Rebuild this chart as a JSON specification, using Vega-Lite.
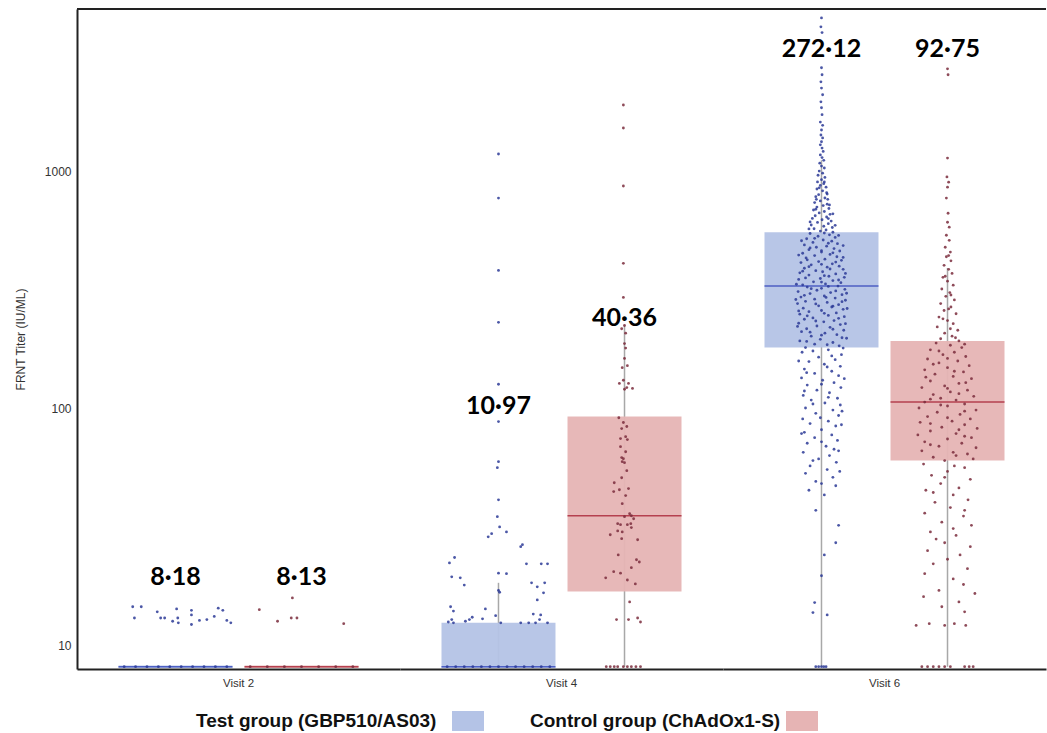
{
  "$schema": "https://vega.github.io/schema/vega-lite/v6.json",
  "padding": {"left": 14, "top": 8, "right": 0, "bottom": 0},
  "background": "white",
  "bounds": "flush",
  "data": {"values": [
    {"k":"b","v":"Visit 2","g":"T","lo":8.1,"q1":8.0,"med":8.1,"q3":8.2,"hi":8.1},
    {"k":"b","v":"Visit 2","g":"C","lo":8.1,"q1":8.0,"med":8.1,"q3":8.2,"hi":8.1},
    {"k":"b","v":"Visit 4","g":"T","lo":8.1,"q1":8.0,"med":8.1,"q3":12.4,"hi":18.3},
    {"k":"b","v":"Visit 4","g":"C","lo":8.1,"q1":16.8,"med":35.1,"q3":92,"hi":223},
    {"k":"b","v":"Visit 6","g":"T","lo":8.1,"q1":180,"med":327,"q3":552,"hi":1110},
    {"k":"b","v":"Visit 6","g":"C","lo":8.1,"q1":60.1,"med":106,"q3":192,"hi":390},
    {"k":"l","v":"Visit 2","g":"T","lab":"8·18","ly":17.9},
    {"k":"l","v":"Visit 2","g":"C","lab":"8·13","ly":17.9},
    {"k":"l","v":"Visit 4","g":"T","lab":"10·97","ly":94.8},
    {"k":"l","v":"Visit 4","g":"C","lab":"40·36","ly":223},
    {"k":"l","v":"Visit 6","g":"T","lab":"272·12","ly":3030},
    {"k":"l","v":"Visit 6","g":"C","lab":"92·75","ly":3030},

    {"k":"p","v":"Visit 2","g":"T","t":14.5,"j":-0.75},{"k":"p","v":"Visit 2","g":"T","t":14.5,"j":-0.6},{"k":"p","v":"Visit 2","g":"T","t":13.0,"j":-0.72},{"k":"p","v":"Visit 2","g":"T","t":13.8,"j":-0.32},{"k":"p","v":"Visit 2","g":"T","t":13.0,"j":-0.26},{"k":"p","v":"Visit 2","g":"T","t":13.0,"j":-0.19},{"k":"p","v":"Visit 2","g":"T","t":12.6,"j":-0.05},{"k":"p","v":"Visit 2","g":"T","t":14.2,"j":0.02},{"k":"p","v":"Visit 2","g":"T","t":12.4,"j":0.05},{"k":"p","v":"Visit 2","g":"T","t":13.0,"j":0.04},{"k":"p","v":"Visit 2","g":"T","t":14.0,"j":0.28},{"k":"p","v":"Visit 2","g":"T","t":13.4,"j":0.28},{"k":"p","v":"Visit 2","g":"T","t":12.2,"j":0.28},{"k":"p","v":"Visit 2","g":"T","t":12.7,"j":0.42},{"k":"p","v":"Visit 2","g":"T","t":12.8,"j":0.55},{"k":"p","v":"Visit 2","g":"T","t":13.2,"j":0.68},{"k":"p","v":"Visit 2","g":"T","t":14.3,"j":0.75},{"k":"p","v":"Visit 2","g":"T","t":14.0,"j":0.83},{"k":"p","v":"Visit 2","g":"T","t":12.7,"j":0.9},{"k":"p","v":"Visit 2","g":"T","t":12.4,"j":0.97},
    {"k":"p","v":"Visit 2","g":"T","t":8.1,"j":-0.9},{"k":"p","v":"Visit 2","g":"T","t":8.1,"j":-0.7},{"k":"p","v":"Visit 2","g":"T","t":8.1,"j":-0.5},{"k":"p","v":"Visit 2","g":"T","t":8.1,"j":-0.3},{"k":"p","v":"Visit 2","g":"T","t":8.1,"j":-0.1},{"k":"p","v":"Visit 2","g":"T","t":8.1,"j":0.1},{"k":"p","v":"Visit 2","g":"T","t":8.1,"j":0.3},{"k":"p","v":"Visit 2","g":"T","t":8.1,"j":0.5},{"k":"p","v":"Visit 2","g":"T","t":8.1,"j":0.7},{"k":"p","v":"Visit 2","g":"T","t":8.1,"j":0.9},

    {"k":"p","v":"Visit 2","g":"C","t":14.1,"j":-0.74},{"k":"p","v":"Visit 2","g":"C","t":12.6,"j":-0.42},{"k":"p","v":"Visit 2","g":"C","t":15.8,"j":-0.16},{"k":"p","v":"Visit 2","g":"C","t":13.0,"j":-0.18},{"k":"p","v":"Visit 2","g":"C","t":13.0,"j":-0.08},{"k":"p","v":"Visit 2","g":"C","t":12.3,"j":0.74},
    {"k":"p","v":"Visit 2","g":"C","t":8.1,"j":-0.9},{"k":"p","v":"Visit 2","g":"C","t":8.1,"j":-0.6},{"k":"p","v":"Visit 2","g":"C","t":8.1,"j":-0.3},{"k":"p","v":"Visit 2","g":"C","t":8.1,"j":0.0},{"k":"p","v":"Visit 2","g":"C","t":8.1,"j":0.3},{"k":"p","v":"Visit 2","g":"C","t":8.1,"j":0.6},{"k":"p","v":"Visit 2","g":"C","t":8.1,"j":0.9},

    {"k":"p","v":"Visit 4","g":"T","t":1180,"j":0.0},{"k":"p","v":"Visit 4","g":"T","t":769,"j":0.0},{"k":"p","v":"Visit 4","g":"T","t":381,"j":0.0},{"k":"p","v":"Visit 4","g":"T","t":230,"j":0.0},{"k":"p","v":"Visit 4","g":"T","t":126,"j":0.0},{"k":"p","v":"Visit 4","g":"T","t":87.7,"j":0.0},{"k":"p","v":"Visit 4","g":"T","t":59.4,"j":0.0},{"k":"p","v":"Visit 4","g":"T","t":56,"j":-0.02},{"k":"p","v":"Visit 4","g":"T","t":41,"j":0.0},{"k":"p","v":"Visit 4","g":"T","t":34.8,"j":-0.02},{"k":"p","v":"Visit 4","g":"T","t":31.5,"j":0.02},{"k":"p","v":"Visit 4","g":"T","t":28.6,"j":-0.18},{"k":"p","v":"Visit 4","g":"T","t":29.5,"j":-0.12},{"k":"p","v":"Visit 4","g":"T","t":30,"j":0.14},{"k":"p","v":"Visit 4","g":"T","t":26,"j":0.39},{"k":"p","v":"Visit 4","g":"T","t":26.5,"j":0.42},{"k":"p","v":"Visit 4","g":"T","t":22.2,"j":-0.86},{"k":"p","v":"Visit 4","g":"T","t":23.4,"j":-0.77},{"k":"p","v":"Visit 4","g":"T","t":22,"j":0.49},{"k":"p","v":"Visit 4","g":"T","t":22,"j":0.75},{"k":"p","v":"Visit 4","g":"T","t":22,"j":0.86},{"k":"p","v":"Visit 4","g":"T","t":20.1,"j":0.0},{"k":"p","v":"Visit 4","g":"T","t":20,"j":0.14},{"k":"p","v":"Visit 4","g":"T","t":19.4,"j":-0.82},{"k":"p","v":"Visit 4","g":"T","t":19.2,"j":-0.67},{"k":"p","v":"Visit 4","g":"T","t":17.9,"j":-0.6},{"k":"p","v":"Visit 4","g":"T","t":18.3,"j":0.58},{"k":"p","v":"Visit 4","g":"T","t":17.6,"j":0.68},{"k":"p","v":"Visit 4","g":"T","t":18.3,"j":0.81},{"k":"p","v":"Visit 4","g":"T","t":16.6,"j":0.79},{"k":"p","v":"Visit 4","g":"T","t":15.5,"j":0.68},{"k":"p","v":"Visit 4","g":"T","t":17.0,"j":0.0},{"k":"p","v":"Visit 4","g":"T","t":16.7,"j":0.02},{"k":"p","v":"Visit 4","g":"T","t":14.5,"j":-0.84},{"k":"p","v":"Visit 4","g":"T","t":13.9,"j":-0.79},{"k":"p","v":"Visit 4","g":"T","t":14.2,"j":-0.23},{"k":"p","v":"Visit 4","g":"T","t":13.3,"j":-0.05},{"k":"p","v":"Visit 4","g":"T","t":12.9,"j":-0.28},{"k":"p","v":"Visit 4","g":"T","t":13.1,"j":-0.46},{"k":"p","v":"Visit 4","g":"T","t":12.8,"j":-0.51},{"k":"p","v":"Visit 4","g":"T","t":12.6,"j":-0.58},{"k":"p","v":"Visit 4","g":"T","t":12.8,"j":-0.82},{"k":"p","v":"Visit 4","g":"T","t":12.5,"j":-0.88},{"k":"p","v":"Visit 4","g":"T","t":13.5,"j":0.61},{"k":"p","v":"Visit 4","g":"T","t":13.4,"j":0.74},{"k":"p","v":"Visit 4","g":"T","t":12.8,"j":0.72},{"k":"p","v":"Visit 4","g":"T","t":12.4,"j":-0.79},{"k":"p","v":"Visit 4","g":"T","t":12.4,"j":0.04},{"k":"p","v":"Visit 4","g":"T","t":12.4,"j":0.39},{"k":"p","v":"Visit 4","g":"T","t":12.4,"j":0.53},{"k":"p","v":"Visit 4","g":"T","t":12.4,"j":0.65},{"k":"p","v":"Visit 4","g":"T","t":12.4,"j":0.86},
    {"k":"p","v":"Visit 4","g":"T","t":8.1,"j":-0.9},{"k":"p","v":"Visit 4","g":"T","t":8.1,"j":-0.75},{"k":"p","v":"Visit 4","g":"T","t":8.1,"j":-0.6},{"k":"p","v":"Visit 4","g":"T","t":8.1,"j":-0.45},{"k":"p","v":"Visit 4","g":"T","t":8.1,"j":-0.3},{"k":"p","v":"Visit 4","g":"T","t":8.1,"j":-0.15},{"k":"p","v":"Visit 4","g":"T","t":8.1,"j":0.0},{"k":"p","v":"Visit 4","g":"T","t":8.1,"j":0.15},{"k":"p","v":"Visit 4","g":"T","t":8.1,"j":0.3},{"k":"p","v":"Visit 4","g":"T","t":8.1,"j":0.45},{"k":"p","v":"Visit 4","g":"T","t":8.1,"j":0.6},{"k":"p","v":"Visit 4","g":"T","t":8.1,"j":0.75},{"k":"p","v":"Visit 4","g":"T","t":8.1,"j":0.9},

    {"k":"p","v":"Visit 4","g":"C","t":1900,"j":-0.02},{"k":"p","v":"Visit 4","g":"C","t":1520,"j":-0.02},{"k":"p","v":"Visit 4","g":"C","t":865,"j":-0.02},{"k":"p","v":"Visit 4","g":"C","t":408,"j":-0.02},{"k":"p","v":"Visit 4","g":"C","t":293,"j":-0.02},{"k":"p","v":"Visit 4","g":"C","t":223,"j":0.0},{"k":"p","v":"Visit 4","g":"C","t":216,"j":-0.05},{"k":"p","v":"Visit 4","g":"C","t":207,"j":0.02},{"k":"p","v":"Visit 4","g":"C","t":187,"j":0.0},{"k":"p","v":"Visit 4","g":"C","t":179,"j":0.02},{"k":"p","v":"Visit 4","g":"C","t":162,"j":0.0},{"k":"p","v":"Visit 4","g":"C","t":148,"j":-0.04},{"k":"p","v":"Visit 4","g":"C","t":151,"j":0.05},{"k":"p","v":"Visit 4","g":"C","t":131,"j":-0.02},{"k":"p","v":"Visit 4","g":"C","t":127,"j":0.07},{"k":"p","v":"Visit 4","g":"C","t":121,"j":0.14},{"k":"p","v":"Visit 4","g":"C","t":127,"j":-0.09},{"k":"p","v":"Visit 4","g":"C","t":122,"j":0.04},{"k":"p","v":"Visit 4","g":"C","t":120,"j":0.0},{"k":"p","v":"Visit 4","g":"C","t":91,"j":-0.1},
    {"k":"p","v":"Visit 4","g":"C","t":86.9,"j":-0.02},{"k":"p","v":"Visit 4","g":"C","t":83.6,"j":0.04},{"k":"p","v":"Visit 4","g":"C","t":81.9,"j":-0.05},{"k":"p","v":"Visit 4","g":"C","t":74.3,"j":-0.07},{"k":"p","v":"Visit 4","g":"C","t":75.7,"j":0.02},{"k":"p","v":"Visit 4","g":"C","t":73.6,"j":0.05},{"k":"p","v":"Visit 4","g":"C","t":68.7,"j":-0.07},{"k":"p","v":"Visit 4","g":"C","t":65.4,"j":0.02},{"k":"p","v":"Visit 4","g":"C","t":61.8,"j":-0.05},{"k":"p","v":"Visit 4","g":"C","t":61.1,"j":-0.02},{"k":"p","v":"Visit 4","g":"C","t":58.8,"j":0.0},{"k":"p","v":"Visit 4","g":"C","t":59.4,"j":-0.04},{"k":"p","v":"Visit 4","g":"C","t":54.4,"j":0.04},{"k":"p","v":"Visit 4","g":"C","t":50.8,"j":-0.05},{"k":"p","v":"Visit 4","g":"C","t":48.4,"j":-0.18},{"k":"p","v":"Visit 4","g":"C","t":44.4,"j":-0.19},{"k":"p","v":"Visit 4","g":"C","t":45.2,"j":-0.09},{"k":"p","v":"Visit 4","g":"C","t":45.7,"j":0.07},{"k":"p","v":"Visit 4","g":"C","t":42.7,"j":0.02},{"k":"p","v":"Visit 4","g":"C","t":39.5,"j":-0.04},{"k":"p","v":"Visit 4","g":"C","t":34.8,"j":0.0},{"k":"p","v":"Visit 4","g":"C","t":35.8,"j":0.09},{"k":"p","v":"Visit 4","g":"C","t":35.1,"j":0.12},{"k":"p","v":"Visit 4","g":"C","t":34.1,"j":0.16},{"k":"p","v":"Visit 4","g":"C","t":32.5,"j":-0.12},{"k":"p","v":"Visit 4","g":"C","t":32.2,"j":-0.07},{"k":"p","v":"Visit 4","g":"C","t":32.2,"j":0.05},{"k":"p","v":"Visit 4","g":"C","t":32.5,"j":0.11},{"k":"p","v":"Visit 4","g":"C","t":31.3,"j":0.12},{"k":"p","v":"Visit 4","g":"C","t":30.3,"j":-0.12},{"k":"p","v":"Visit 4","g":"C","t":30,"j":-0.04},{"k":"p","v":"Visit 4","g":"C","t":29.2,"j":-0.25},{"k":"p","v":"Visit 4","g":"C","t":28.1,"j":-0.05},{"k":"p","v":"Visit 4","g":"C","t":27.8,"j":0.23},{"k":"p","v":"Visit 4","g":"C","t":24,"j":-0.11},{"k":"p","v":"Visit 4","g":"C","t":22.9,"j":0.21},{"k":"p","v":"Visit 4","g":"C","t":22.4,"j":0.26},{"k":"p","v":"Visit 4","g":"C","t":21.2,"j":0.12},{"k":"p","v":"Visit 4","g":"C","t":20.4,"j":-0.19},{"k":"p","v":"Visit 4","g":"C","t":20.1,"j":-0.07},{"k":"p","v":"Visit 4","g":"C","t":18.8,"j":0.05},{"k":"p","v":"Visit 4","g":"C","t":18.1,"j":0.19},{"k":"p","v":"Visit 4","g":"C","t":19.2,"j":-0.33},{"k":"p","v":"Visit 4","g":"C","t":15.2,"j":0.09},{"k":"p","v":"Visit 4","g":"C","t":12.8,"j":-0.14},{"k":"p","v":"Visit 4","g":"C","t":12.8,"j":0.07},{"k":"p","v":"Visit 4","g":"C","t":13,"j":0.23},{"k":"p","v":"Visit 4","g":"C","t":12.5,"j":0.28},
    {"k":"p","v":"Visit 4","g":"C","t":8.1,"j":-0.32},{"k":"p","v":"Visit 4","g":"C","t":8.1,"j":-0.25},{"k":"p","v":"Visit 4","g":"C","t":8.1,"j":-0.18},{"k":"p","v":"Visit 4","g":"C","t":8.1,"j":-0.12},{"k":"p","v":"Visit 4","g":"C","t":8.1,"j":-0.02},{"k":"p","v":"Visit 4","g":"C","t":8.1,"j":0.05},{"k":"p","v":"Visit 4","g":"C","t":8.1,"j":0.12},{"k":"p","v":"Visit 4","g":"C","t":8.1,"j":0.2},{"k":"p","v":"Visit 4","g":"C","t":8.1,"j":0.28},

    {"k":"p","v":"Visit 6","g":"T","t":4430,"j":0.0},{"k":"p","v":"Visit 6","g":"T","t":4060,"j":-0.01},{"k":"p","v":"Visit 6","g":"T","t":3840,"j":0.01},{"k":"p","v":"Visit 6","g":"T","t":2730,"j":0.0},{"k":"p","v":"Visit 6","g":"T","t":2550,"j":0.01},{"k":"p","v":"Visit 6","g":"T","t":2380,"j":-0.01},{"k":"p","v":"Visit 6","g":"T","t":2240,"j":0.0},{"k":"p","v":"Visit 6","g":"T","t":2100,"j":0.02},{"k":"p","v":"Visit 6","g":"T","t":1960,"j":-0.01},{"k":"p","v":"Visit 6","g":"T","t":1850,"j":0.0},{"k":"p","v":"Visit 6","g":"T","t":1730,"j":0.01},{"k":"p","v":"Visit 6","g":"T","t":1610,"j":-0.02},{"k":"p","v":"Visit 6","g":"T","t":1560,"j":0.02},{"k":"p","v":"Visit 6","g":"T","t":1490,"j":0.0},{"k":"p","v":"Visit 6","g":"T","t":1420,"j":-0.01},{"k":"p","v":"Visit 6","g":"T","t":1380,"j":0.02},{"k":"p","v":"Visit 6","g":"T","t":1330,"j":0.0},{"k":"p","v":"Visit 6","g":"T","t":1290,"j":-0.02},{"k":"p","v":"Visit 6","g":"T","t":1250,"j":0.01},{"k":"p","v":"Visit 6","g":"T","t":1210,"j":0.03},
    {"k":"p","v":"Visit 6","g":"T","t":1170,"j":-0.02},{"k":"p","v":"Visit 6","g":"T","t":1140,"j":0.01},{"k":"p","v":"Visit 6","g":"T","t":1110,"j":0.04},{"k":"p","v":"Visit 6","g":"T","t":1080,"j":-0.03},{"k":"p","v":"Visit 6","g":"T","t":1050,"j":0.0},{"k":"p","v":"Visit 6","g":"T","t":1030,"j":0.05},{"k":"p","v":"Visit 6","g":"T","t":1000,"j":-0.04},{"k":"p","v":"Visit 6","g":"T","t":980,"j":0.02},{"k":"p","v":"Visit 6","g":"T","t":960,"j":-0.06},{"k":"p","v":"Visit 6","g":"T","t":940,"j":0.06},{"k":"p","v":"Visit 6","g":"T","t":920,"j":0.0},{"k":"p","v":"Visit 6","g":"T","t":900,"j":-0.07},{"k":"p","v":"Visit 6","g":"T","t":885,"j":0.04},{"k":"p","v":"Visit 6","g":"T","t":870,"j":-0.02},{"k":"p","v":"Visit 6","g":"T","t":855,"j":0.08},{"k":"p","v":"Visit 6","g":"T","t":840,"j":-0.08},{"k":"p","v":"Visit 6","g":"T","t":825,"j":0.02},{"k":"p","v":"Visit 6","g":"T","t":810,"j":0.09},{"k":"p","v":"Visit 6","g":"T","t":795,"j":-0.05},{"k":"p","v":"Visit 6","g":"T","t":780,"j":-0.1},{"k":"p","v":"Visit 6","g":"T","t":770,"j":0.06},{"k":"p","v":"Visit 6","g":"T","t":760,"j":0.11},{"k":"p","v":"Visit 6","g":"T","t":748,"j":-0.02},{"k":"p","v":"Visit 6","g":"T","t":736,"j":-0.12},{"k":"p","v":"Visit 6","g":"T","t":725,"j":0.1},{"k":"p","v":"Visit 6","g":"T","t":715,"j":0.03},{"k":"p","v":"Visit 6","g":"T","t":705,"j":-0.08},{"k":"p","v":"Visit 6","g":"T","t":695,"j":0.13},{"k":"p","v":"Visit 6","g":"T","t":685,"j":-0.14},{"k":"p","v":"Visit 6","g":"T","t":675,"j":0.05},{"k":"p","v":"Visit 6","g":"T","t":666,"j":-0.04},{"k":"p","v":"Visit 6","g":"T","t":657,"j":0.15},{"k":"p","v":"Visit 6","g":"T","t":648,"j":-0.11},{"k":"p","v":"Visit 6","g":"T","t":640,"j":0.09},{"k":"p","v":"Visit 6","g":"T","t":631,"j":-0.16},{"k":"p","v":"Visit 6","g":"T","t":623,"j":0.01},{"k":"p","v":"Visit 6","g":"T","t":615,"j":0.17},{"k":"p","v":"Visit 6","g":"T","t":607,"j":-0.07},{"k":"p","v":"Visit 6","g":"T","t":600,"j":0.12},{"k":"p","v":"Visit 6","g":"T","t":592,"j":-0.18},{"k":"p","v":"Visit 6","g":"T","t":585,"j":0.04},{"k":"p","v":"Visit 6","g":"T","t":578,"j":0.19},{"k":"p","v":"Visit 6","g":"T","t":571,"j":-0.13},{"k":"p","v":"Visit 6","g":"T","t":564,"j":0.08},{"k":"p","v":"Visit 6","g":"T","t":558,"j":-0.02},{"k":"p","v":"Visit 6","g":"T","t":552,"j":0.2},
    {"k":"p","v":"Visit 6","g":"T","t":545,"j":-0.2},{"k":"p","v":"Visit 6","g":"T","t":538,"j":0.14},{"k":"p","v":"Visit 6","g":"T","t":531,"j":-0.06},{"k":"p","v":"Visit 6","g":"T","t":525,"j":0.24},{"k":"p","v":"Visit 6","g":"T","t":518,"j":-0.26},{"k":"p","v":"Visit 6","g":"T","t":512,"j":0.03},{"k":"p","v":"Visit 6","g":"T","t":506,"j":0.18},{"k":"p","v":"Visit 6","g":"T","t":500,"j":-0.15},{"k":"p","v":"Visit 6","g":"T","t":494,"j":0.28},{"k":"p","v":"Visit 6","g":"T","t":488,"j":-0.3},{"k":"p","v":"Visit 6","g":"T","t":482,"j":0.09},{"k":"p","v":"Visit 6","g":"T","t":477,"j":-0.09},{"k":"p","v":"Visit 6","g":"T","t":471,"j":0.22},{"k":"p","v":"Visit 6","g":"T","t":466,"j":-0.22},{"k":"p","v":"Visit 6","g":"T","t":460,"j":0.32},{"k":"p","v":"Visit 6","g":"T","t":455,"j":0.0},{"k":"p","v":"Visit 6","g":"T","t":450,"j":-0.33},{"k":"p","v":"Visit 6","g":"T","t":445,"j":0.15},{"k":"p","v":"Visit 6","g":"T","t":440,"j":-0.12},{"k":"p","v":"Visit 6","g":"T","t":435,"j":0.27},{"k":"p","v":"Visit 6","g":"T","t":430,"j":-0.27},{"k":"p","v":"Visit 6","g":"T","t":425,"j":0.06},{"k":"p","v":"Visit 6","g":"T","t":420,"j":0.35},{"k":"p","v":"Visit 6","g":"T","t":415,"j":-0.05},{"k":"p","v":"Visit 6","g":"T","t":411,"j":-0.36},{"k":"p","v":"Visit 6","g":"T","t":406,"j":0.19},{"k":"p","v":"Visit 6","g":"T","t":402,"j":-0.18},{"k":"p","v":"Visit 6","g":"T","t":397,"j":0.31},{"k":"p","v":"Visit 6","g":"T","t":393,"j":0.1},{"k":"p","v":"Visit 6","g":"T","t":389,"j":-0.3},{"k":"p","v":"Visit 6","g":"T","t":385,"j":0.38},{"k":"p","v":"Visit 6","g":"T","t":380,"j":-0.1},{"k":"p","v":"Visit 6","g":"T","t":376,"j":0.02},{"k":"p","v":"Visit 6","g":"T","t":372,"j":-0.38},{"k":"p","v":"Visit 6","g":"T","t":368,"j":0.25},{"k":"p","v":"Visit 6","g":"T","t":364,"j":-0.22},{"k":"p","v":"Visit 6","g":"T","t":360,"j":0.13},{"k":"p","v":"Visit 6","g":"T","t":356,"j":0.4},{"k":"p","v":"Visit 6","g":"T","t":352,"j":-0.02},{"k":"p","v":"Visit 6","g":"T","t":349,"j":-0.4},{"k":"p","v":"Visit 6","g":"T","t":345,"j":0.2},{"k":"p","v":"Visit 6","g":"T","t":341,"j":-0.14},{"k":"p","v":"Visit 6","g":"T","t":338,"j":0.34},{"k":"p","v":"Visit 6","g":"T","t":334,"j":0.07},{"k":"p","v":"Visit 6","g":"T","t":331,"j":-0.33},{"k":"p","v":"Visit 6","g":"T","t":327,"j":0.29},{"k":"p","v":"Visit 6","g":"T","t":324,"j":-0.25},{"k":"p","v":"Visit 6","g":"T","t":320,"j":0.0},{"k":"p","v":"Visit 6","g":"T","t":317,"j":0.41},{"k":"p","v":"Visit 6","g":"T","t":314,"j":-0.08},{"k":"p","v":"Visit 6","g":"T","t":310,"j":-0.41},{"k":"p","v":"Visit 6","g":"T","t":307,"j":0.16},{"k":"p","v":"Visit 6","g":"T","t":304,"j":-0.2},{"k":"p","v":"Visit 6","g":"T","t":301,"j":0.36},{"k":"p","v":"Visit 6","g":"T","t":297,"j":0.05},{"k":"p","v":"Visit 6","g":"T","t":294,"j":-0.36},{"k":"p","v":"Visit 6","g":"T","t":291,"j":0.24},{"k":"p","v":"Visit 6","g":"T","t":288,"j":-0.12},{"k":"p","v":"Visit 6","g":"T","t":285,"j":0.42},{"k":"p","v":"Visit 6","g":"T","t":282,"j":-0.28},{"k":"p","v":"Visit 6","g":"T","t":279,"j":0.1},{"k":"p","v":"Visit 6","g":"T","t":276,"j":-0.42},{"k":"p","v":"Visit 6","g":"T","t":273,"j":0.3},{"k":"p","v":"Visit 6","g":"T","t":270,"j":-0.05},{"k":"p","v":"Visit 6","g":"T","t":267,"j":0.18},{"k":"p","v":"Visit 6","g":"T","t":264,"j":-0.32},{"k":"p","v":"Visit 6","g":"T","t":261,"j":0.38},{"k":"p","v":"Visit 6","g":"T","t":258,"j":0.0},{"k":"p","v":"Visit 6","g":"T","t":255,"j":-0.22},{"k":"p","v":"Visit 6","g":"T","t":252,"j":0.26},{"k":"p","v":"Visit 6","g":"T","t":249,"j":-0.38},{"k":"p","v":"Visit 6","g":"T","t":246,"j":0.12},{"k":"p","v":"Visit 6","g":"T","t":243,"j":0.4},{"k":"p","v":"Visit 6","g":"T","t":240,"j":-0.15},{"k":"p","v":"Visit 6","g":"T","t":237,"j":-0.3},{"k":"p","v":"Visit 6","g":"T","t":234,"j":0.22},{"k":"p","v":"Visit 6","g":"T","t":231,"j":0.04},{"k":"p","v":"Visit 6","g":"T","t":228,"j":-0.4},{"k":"p","v":"Visit 6","g":"T","t":225,"j":0.33},{"k":"p","v":"Visit 6","g":"T","t":222,"j":-0.08},{"k":"p","v":"Visit 6","g":"T","t":219,"j":0.15},{"k":"p","v":"Visit 6","g":"T","t":216,"j":-0.26},{"k":"p","v":"Visit 6","g":"T","t":213,"j":0.39},{"k":"p","v":"Visit 6","g":"T","t":210,"j":-0.35},{"k":"p","v":"Visit 6","g":"T","t":207,"j":0.06},{"k":"p","v":"Visit 6","g":"T","t":204,"j":0.27},{"k":"p","v":"Visit 6","g":"T","t":201,"j":-0.18},{"k":"p","v":"Visit 6","g":"T","t":198,"j":0.36},{"k":"p","v":"Visit 6","g":"T","t":195,"j":-0.02},{"k":"p","v":"Visit 6","g":"T","t":192,"j":-0.38},{"k":"p","v":"Visit 6","g":"T","t":189,"j":0.2},{"k":"p","v":"Visit 6","g":"T","t":186,"j":-0.12},{"k":"p","v":"Visit 6","g":"T","t":183,"j":0.31},{"k":"p","v":"Visit 6","g":"T","t":180,"j":-0.28},
    {"k":"p","v":"Visit 6","g":"T","t":176,"j":0.12},{"k":"p","v":"Visit 6","g":"T","t":172,"j":-0.34},{"k":"p","v":"Visit 6","g":"T","t":168,"j":0.35},{"k":"p","v":"Visit 6","g":"T","t":164,"j":-0.05},{"k":"p","v":"Visit 6","g":"T","t":160,"j":0.24},{"k":"p","v":"Visit 6","g":"T","t":157,"j":-0.22},{"k":"p","v":"Visit 6","g":"T","t":153,"j":0.05},{"k":"p","v":"Visit 6","g":"T","t":150,"j":0.33},{"k":"p","v":"Visit 6","g":"T","t":146,"j":-0.3},{"k":"p","v":"Visit 6","g":"T","t":143,"j":0.18},{"k":"p","v":"Visit 6","g":"T","t":140,"j":-0.12},{"k":"p","v":"Visit 6","g":"T","t":137,"j":0.3},{"k":"p","v":"Visit 6","g":"T","t":134,"j":-0.35},{"k":"p","v":"Visit 6","g":"T","t":131,"j":0.02},{"k":"p","v":"Visit 6","g":"T","t":128,"j":0.22},{"k":"p","v":"Visit 6","g":"T","t":125,"j":-0.25},{"k":"p","v":"Visit 6","g":"T","t":122,"j":0.34},{"k":"p","v":"Visit 6","g":"T","t":119,"j":-0.08},{"k":"p","v":"Visit 6","g":"T","t":116,"j":0.14},{"k":"p","v":"Visit 6","g":"T","t":113,"j":-0.32},{"k":"p","v":"Visit 6","g":"T","t":110,"j":0.28},{"k":"p","v":"Visit 6","g":"T","t":108,"j":-0.18},{"k":"p","v":"Visit 6","g":"T","t":105,"j":0.06},{"k":"p","v":"Visit 6","g":"T","t":103,"j":0.33},{"k":"p","v":"Visit 6","g":"T","t":100,"j":-0.28},{"k":"p","v":"Visit 6","g":"T","t":98,"j":0.2},{"k":"p","v":"Visit 6","g":"T","t":95,"j":-0.1},{"k":"p","v":"Visit 6","g":"T","t":93,"j":0.3},{"k":"p","v":"Visit 6","g":"T","t":90,"j":-0.33},{"k":"p","v":"Visit 6","g":"T","t":88,"j":0.12},{"k":"p","v":"Visit 6","g":"T","t":86,"j":-0.2},{"k":"p","v":"Visit 6","g":"T","t":84,"j":0.25},{"k":"p","v":"Visit 6","g":"T","t":81,"j":0.0},{"k":"p","v":"Visit 6","g":"T","t":79,"j":-0.3},{"k":"p","v":"Visit 6","g":"T","t":77,"j":0.18},{"k":"p","v":"Visit 6","g":"T","t":75,"j":-0.12},{"k":"p","v":"Visit 6","g":"T","t":73,"j":0.28},{"k":"p","v":"Visit 6","g":"T","t":71,"j":-0.25},{"k":"p","v":"Visit 6","g":"T","t":69,"j":0.08},{"k":"p","v":"Visit 6","g":"T","t":67,"j":0.22},{"k":"p","v":"Visit 6","g":"T","t":65,"j":-0.32},{"k":"p","v":"Visit 6","g":"T","t":63,"j":0.14},{"k":"p","v":"Visit 6","g":"T","t":61,"j":-0.05},{"k":"p","v":"Visit 6","g":"T","t":59,"j":0.26},{"k":"p","v":"Visit 6","g":"T","t":57,"j":-0.2},{"k":"p","v":"Visit 6","g":"T","t":55,"j":0.1},{"k":"p","v":"Visit 6","g":"T","t":53,"j":-0.28},{"k":"p","v":"Visit 6","g":"T","t":51,"j":0.2},{"k":"p","v":"Visit 6","g":"T","t":49,"j":-0.1},{"k":"p","v":"Visit 6","g":"T","t":47,"j":0.25},{"k":"p","v":"Visit 6","g":"T","t":45,"j":-0.22},{"k":"p","v":"Visit 6","g":"T","t":43,"j":0.05},
    {"k":"p","v":"Visit 6","g":"T","t":37,"j":-0.1},{"k":"p","v":"Visit 6","g":"T","t":32,"j":0.3},{"k":"p","v":"Visit 6","g":"T","t":27,"j":0.25},{"k":"p","v":"Visit 6","g":"T","t":24,"j":0.05},{"k":"p","v":"Visit 6","g":"T","t":19.6,"j":0.0},{"k":"p","v":"Visit 6","g":"T","t":15.1,"j":-0.12},{"k":"p","v":"Visit 6","g":"T","t":13.7,"j":-0.15},{"k":"p","v":"Visit 6","g":"T","t":13.4,"j":0.1},
    {"k":"p","v":"Visit 6","g":"T","t":8.1,"j":-0.1},{"k":"p","v":"Visit 6","g":"T","t":8.1,"j":-0.05},{"k":"p","v":"Visit 6","g":"T","t":8.1,"j":0.0},{"k":"p","v":"Visit 6","g":"T","t":8.1,"j":0.04},{"k":"p","v":"Visit 6","g":"T","t":8.1,"j":0.08},
    {"k":"p","v":"Visit 6","g":"T","t":900,"j":0.05},{"k":"p","v":"Visit 6","g":"T","t":850,"j":-0.04},{"k":"p","v":"Visit 6","g":"T","t":800,"j":0.1},{"k":"p","v":"Visit 6","g":"T","t":760,"j":-0.09},{"k":"p","v":"Visit 6","g":"T","t":720,"j":0.14},{"k":"p","v":"Visit 6","g":"T","t":690,"j":-0.1},{"k":"p","v":"Visit 6","g":"T","t":660,"j":0.2},{"k":"p","v":"Visit 6","g":"T","t":630,"j":0.12},{"k":"p","v":"Visit 6","g":"T","t":610,"j":-0.2},{"k":"p","v":"Visit 6","g":"T","t":590,"j":0.24},{"k":"p","v":"Visit 6","g":"T","t":570,"j":-0.22},{"k":"p","v":"Visit 6","g":"T","t":548,"j":0.05},{"k":"p","v":"Visit 6","g":"T","t":535,"j":0.3},{"k":"p","v":"Visit 6","g":"T","t":520,"j":-0.12},{"k":"p","v":"Visit 6","g":"T","t":508,"j":-0.35},{"k":"p","v":"Visit 6","g":"T","t":496,"j":0.12},{"k":"p","v":"Visit 6","g":"T","t":485,"j":0.38},{"k":"p","v":"Visit 6","g":"T","t":474,"j":-0.2},{"k":"p","v":"Visit 6","g":"T","t":462,"j":0.0},{"k":"p","v":"Visit 6","g":"T","t":452,"j":0.2},{"k":"p","v":"Visit 6","g":"T","t":442,"j":-0.4},{"k":"p","v":"Visit 6","g":"T","t":432,"j":0.38},{"k":"p","v":"Visit 6","g":"T","t":422,"j":-0.25},{"k":"p","v":"Visit 6","g":"T","t":413,"j":0.25},{"k":"p","v":"Visit 6","g":"T","t":404,"j":0.0},{"k":"p","v":"Visit 6","g":"T","t":395,"j":-0.22},{"k":"p","v":"Visit 6","g":"T","t":386,"j":0.15},{"k":"p","v":"Visit 6","g":"T","t":378,"j":-0.33},{"k":"p","v":"Visit 6","g":"T","t":370,"j":0.42},{"k":"p","v":"Visit 6","g":"T","t":362,"j":0.05},{"k":"p","v":"Visit 6","g":"T","t":354,"j":-0.28},{"k":"p","v":"Visit 6","g":"T","t":347,"j":0.3},{"k":"p","v":"Visit 6","g":"T","t":340,"j":0.0},{"k":"p","v":"Visit 6","g":"T","t":333,"j":-0.44},{"k":"p","v":"Visit 6","g":"T","t":326,"j":0.12},{"k":"p","v":"Visit 6","g":"T","t":319,"j":-0.18},{"k":"p","v":"Visit 6","g":"T","t":312,"j":0.25},{"k":"p","v":"Visit 6","g":"T","t":305,"j":0.44},{"k":"p","v":"Visit 6","g":"T","t":299,"j":-0.3},{"k":"p","v":"Visit 6","g":"T","t":293,"j":0.08},{"k":"p","v":"Visit 6","g":"T","t":287,"j":-0.45},{"k":"p","v":"Visit 6","g":"T","t":281,"j":0.36},{"k":"p","v":"Visit 6","g":"T","t":275,"j":-0.1},{"k":"p","v":"Visit 6","g":"T","t":269,"j":0.2},{"k":"p","v":"Visit 6","g":"T","t":263,"j":0.45},{"k":"p","v":"Visit 6","g":"T","t":257,"j":-0.4},{"k":"p","v":"Visit 6","g":"T","t":251,"j":0.05},{"k":"p","v":"Visit 6","g":"T","t":245,"j":-0.25},{"k":"p","v":"Visit 6","g":"T","t":239,"j":0.3},{"k":"p","v":"Visit 6","g":"T","t":233,"j":-0.1},{"k":"p","v":"Visit 6","g":"T","t":227,"j":0.42},{"k":"p","v":"Visit 6","g":"T","t":221,"j":-0.42},{"k":"p","v":"Visit 6","g":"T","t":215,"j":0.2},{"k":"p","v":"Visit 6","g":"T","t":209,"j":-0.2},{"k":"p","v":"Visit 6","g":"T","t":203,"j":0.0},{"k":"p","v":"Visit 6","g":"T","t":197,"j":0.44},{"k":"p","v":"Visit 6","g":"T","t":191,"j":-0.26},{"k":"p","v":"Visit 6","g":"T","t":185,"j":0.1},{"k":"p","v":"Visit 6","g":"T","t":179,"j":0.38},{"k":"p","v":"Visit 6","g":"T","t":174,"j":-0.15},{"k":"p","v":"Visit 6","g":"T","t":166,"j":0.18},{"k":"p","v":"Visit 6","g":"T","t":158,"j":-0.4},{"k":"p","v":"Visit 6","g":"T","t":149,"j":0.1},{"k":"p","v":"Visit 6","g":"T","t":141,"j":-0.26},{"k":"p","v":"Visit 6","g":"T","t":133,"j":0.4},{"k":"p","v":"Visit 6","g":"T","t":126,"j":0.0},{"k":"p","v":"Visit 6","g":"T","t":118,"j":-0.3},{"k":"p","v":"Visit 6","g":"T","t":111,"j":0.12},{"k":"p","v":"Visit 6","g":"T","t":104,"j":-0.15},{"k":"p","v":"Visit 6","g":"T","t":97,"j":0.36},{"k":"p","v":"Visit 6","g":"T","t":91,"j":-0.02},{"k":"p","v":"Visit 6","g":"T","t":85,"j":0.35},{"k":"p","v":"Visit 6","g":"T","t":78,"j":-0.35},{"k":"p","v":"Visit 6","g":"T","t":72,"j":0.0},{"k":"p","v":"Visit 6","g":"T","t":66,"j":0.3},{"k":"p","v":"Visit 6","g":"T","t":60,"j":-0.15},{"k":"p","v":"Visit 6","g":"T","t":54,"j":0.32},{"k":"p","v":"Visit 6","g":"T","t":48,"j":0.0},

    {"k":"p","v":"Visit 6","g":"C","t":2700,"j":0.0},{"k":"p","v":"Visit 6","g":"C","t":2550,"j":0.01},{"k":"p","v":"Visit 6","g":"C","t":1135,"j":0.0},{"k":"p","v":"Visit 6","g":"C","t":945,"j":-0.01},{"k":"p","v":"Visit 6","g":"C","t":898,"j":0.02},{"k":"p","v":"Visit 6","g":"C","t":855,"j":0.0},{"k":"p","v":"Visit 6","g":"C","t":769,"j":-0.02},{"k":"p","v":"Visit 6","g":"C","t":664,"j":0.01},{"k":"p","v":"Visit 6","g":"C","t":608,"j":0.0},{"k":"p","v":"Visit 6","g":"C","t":580,"j":0.03},{"k":"p","v":"Visit 6","g":"C","t":536,"j":-0.02},{"k":"p","v":"Visit 6","g":"C","t":510,"j":0.03},{"k":"p","v":"Visit 6","g":"C","t":477,"j":-0.04},{"k":"p","v":"Visit 6","g":"C","t":455,"j":0.05},{"k":"p","v":"Visit 6","g":"C","t":435,"j":-0.02},{"k":"p","v":"Visit 6","g":"C","t":418,"j":0.06},{"k":"p","v":"Visit 6","g":"C","t":400,"j":-0.06},{"k":"p","v":"Visit 6","g":"C","t":385,"j":0.02},{"k":"p","v":"Visit 6","g":"C","t":370,"j":0.08},{"k":"p","v":"Visit 6","g":"C","t":356,"j":-0.08},{"k":"p","v":"Visit 6","g":"C","t":343,"j":0.0},{"k":"p","v":"Visit 6","g":"C","t":330,"j":0.1},{"k":"p","v":"Visit 6","g":"C","t":318,"j":-0.1},{"k":"p","v":"Visit 6","g":"C","t":307,"j":0.04},{"k":"p","v":"Visit 6","g":"C","t":296,"j":-0.03},{"k":"p","v":"Visit 6","g":"C","t":286,"j":0.12},{"k":"p","v":"Visit 6","g":"C","t":276,"j":-0.12},{"k":"p","v":"Visit 6","g":"C","t":267,"j":0.06},{"k":"p","v":"Visit 6","g":"C","t":258,"j":-0.06},{"k":"p","v":"Visit 6","g":"C","t":250,"j":0.15},{"k":"p","v":"Visit 6","g":"C","t":242,"j":-0.15},{"k":"p","v":"Visit 6","g":"C","t":234,"j":0.0},{"k":"p","v":"Visit 6","g":"C","t":227,"j":0.1},{"k":"p","v":"Visit 6","g":"C","t":220,"j":-0.18},{"k":"p","v":"Visit 6","g":"C","t":213,"j":0.18},{"k":"p","v":"Visit 6","g":"C","t":207,"j":-0.05},{"k":"p","v":"Visit 6","g":"C","t":201,"j":0.08},{"k":"p","v":"Visit 6","g":"C","t":196,"j":-0.12},{"k":"p","v":"Visit 6","g":"C","t":192,"j":0.2},
    {"k":"p","v":"Visit 6","g":"C","t":188,"j":-0.2},{"k":"p","v":"Visit 6","g":"C","t":184,"j":0.05},{"k":"p","v":"Visit 6","g":"C","t":180,"j":0.25},{"k":"p","v":"Visit 6","g":"C","t":176,"j":-0.3},{"k":"p","v":"Visit 6","g":"C","t":172,"j":0.12},{"k":"p","v":"Visit 6","g":"C","t":168,"j":-0.08},{"k":"p","v":"Visit 6","g":"C","t":165,"j":0.32},{"k":"p","v":"Visit 6","g":"C","t":161,"j":-0.35},{"k":"p","v":"Visit 6","g":"C","t":158,"j":0.18},{"k":"p","v":"Visit 6","g":"C","t":155,"j":-0.15},{"k":"p","v":"Visit 6","g":"C","t":151,"j":0.38},{"k":"p","v":"Visit 6","g":"C","t":148,"j":0.0},{"k":"p","v":"Visit 6","g":"C","t":145,"j":-0.4},{"k":"p","v":"Visit 6","g":"C","t":142,"j":0.28},{"k":"p","v":"Visit 6","g":"C","t":139,"j":-0.22},{"k":"p","v":"Visit 6","g":"C","t":136,"j":0.1},{"k":"p","v":"Visit 6","g":"C","t":133,"j":0.42},{"k":"p","v":"Visit 6","g":"C","t":130,"j":-0.3},{"k":"p","v":"Visit 6","g":"C","t":127,"j":0.2},{"k":"p","v":"Visit 6","g":"C","t":124,"j":-0.05},{"k":"p","v":"Visit 6","g":"C","t":122,"j":-0.45},{"k":"p","v":"Visit 6","g":"C","t":119,"j":0.35},{"k":"p","v":"Visit 6","g":"C","t":117,"j":0.05},{"k":"p","v":"Visit 6","g":"C","t":114,"j":-0.25},{"k":"p","v":"Visit 6","g":"C","t":112,"j":0.46},{"k":"p","v":"Visit 6","g":"C","t":110,"j":-0.12},{"k":"p","v":"Visit 6","g":"C","t":108,"j":0.15},{"k":"p","v":"Visit 6","g":"C","t":106,"j":-0.4},{"k":"p","v":"Visit 6","g":"C","t":104,"j":0.3},{"k":"p","v":"Visit 6","g":"C","t":102,"j":0.0},{"k":"p","v":"Visit 6","g":"C","t":100,"j":-0.5},{"k":"p","v":"Visit 6","g":"C","t":98,"j":0.5},{"k":"p","v":"Visit 6","g":"C","t":96,"j":-0.18},{"k":"p","v":"Visit 6","g":"C","t":94,"j":0.22},{"k":"p","v":"Visit 6","g":"C","t":92,"j":-0.35},{"k":"p","v":"Visit 6","g":"C","t":90,"j":0.4},{"k":"p","v":"Visit 6","g":"C","t":88,"j":0.08},{"k":"p","v":"Visit 6","g":"C","t":87,"j":-0.48},{"k":"p","v":"Visit 6","g":"C","t":85,"j":0.3},{"k":"p","v":"Visit 6","g":"C","t":83,"j":-0.1},{"k":"p","v":"Visit 6","g":"C","t":82,"j":0.52},{"k":"p","v":"Visit 6","g":"C","t":80,"j":-0.3},{"k":"p","v":"Visit 6","g":"C","t":78,"j":0.15},{"k":"p","v":"Visit 6","g":"C","t":77,"j":-0.52},{"k":"p","v":"Visit 6","g":"C","t":75,"j":0.42},{"k":"p","v":"Visit 6","g":"C","t":74,"j":0.0},{"k":"p","v":"Visit 6","g":"C","t":72,"j":-0.4},{"k":"p","v":"Visit 6","g":"C","t":71,"j":0.25},{"k":"p","v":"Visit 6","g":"C","t":69,"j":-0.15},{"k":"p","v":"Visit 6","g":"C","t":68,"j":0.5},{"k":"p","v":"Visit 6","g":"C","t":66,"j":-0.45},{"k":"p","v":"Visit 6","g":"C","t":65,"j":0.1},{"k":"p","v":"Visit 6","g":"C","t":64,"j":0.35},{"k":"p","v":"Visit 6","g":"C","t":62,"j":-0.25},{"k":"p","v":"Visit 6","g":"C","t":61,"j":0.45},{"k":"p","v":"Visit 6","g":"C","t":60,"j":-0.05},
    {"k":"p","v":"Visit 6","g":"C","t":58,"j":-0.42},{"k":"p","v":"Visit 6","g":"C","t":56,"j":0.3},{"k":"p","v":"Visit 6","g":"C","t":54,"j":0.0},{"k":"p","v":"Visit 6","g":"C","t":52,"j":-0.28},{"k":"p","v":"Visit 6","g":"C","t":50,"j":0.4},{"k":"p","v":"Visit 6","g":"C","t":48,"j":-0.12},{"k":"p","v":"Visit 6","g":"C","t":46,"j":0.2},{"k":"p","v":"Visit 6","g":"C","t":45,"j":-0.38},{"k":"p","v":"Visit 6","g":"C","t":43,"j":0.1},{"k":"p","v":"Visit 6","g":"C","t":41,"j":0.36},{"k":"p","v":"Visit 6","g":"C","t":40,"j":-0.22},{"k":"p","v":"Visit 6","g":"C","t":38,"j":0.05},{"k":"p","v":"Visit 6","g":"C","t":36,"j":-0.4},{"k":"p","v":"Visit 6","g":"C","t":35,"j":0.28},{"k":"p","v":"Visit 6","g":"C","t":33,"j":-0.1},{"k":"p","v":"Visit 6","g":"C","t":32,"j":0.42},{"k":"p","v":"Visit 6","g":"C","t":30,"j":-0.3},{"k":"p","v":"Visit 6","g":"C","t":29,"j":0.15},{"k":"p","v":"Visit 6","g":"C","t":27,"j":-0.05},{"k":"p","v":"Visit 6","g":"C","t":26,"j":0.4},{"k":"p","v":"Visit 6","g":"C","t":25,"j":-0.35},{"k":"p","v":"Visit 6","g":"C","t":24,"j":0.22},{"k":"p","v":"Visit 6","g":"C","t":23,"j":0.0},{"k":"p","v":"Visit 6","g":"C","t":22,"j":-0.25},{"k":"p","v":"Visit 6","g":"C","t":21,"j":0.35},{"k":"p","v":"Visit 6","g":"C","t":20,"j":-0.4},{"k":"p","v":"Visit 6","g":"C","t":19,"j":0.1},{"k":"p","v":"Visit 6","g":"C","t":18,"j":0.28},{"k":"p","v":"Visit 6","g":"C","t":17,"j":-0.15},{"k":"p","v":"Visit 6","g":"C","t":16.5,"j":0.48},{"k":"p","v":"Visit 6","g":"C","t":16,"j":-0.42},{"k":"p","v":"Visit 6","g":"C","t":15.2,"j":0.2},{"k":"p","v":"Visit 6","g":"C","t":14.5,"j":-0.1},{"k":"p","v":"Visit 6","g":"C","t":13.8,"j":0.3},{"k":"p","v":"Visit 6","g":"C","t":12.1,"j":-0.55},{"k":"p","v":"Visit 6","g":"C","t":12.1,"j":-0.05},{"k":"p","v":"Visit 6","g":"C","t":12.3,"j":0.12},{"k":"p","v":"Visit 6","g":"C","t":12.1,"j":0.32},{"k":"p","v":"Visit 6","g":"C","t":12.3,"j":-0.32},
    {"k":"p","v":"Visit 6","g":"C","t":8.1,"j":-0.45},{"k":"p","v":"Visit 6","g":"C","t":8.1,"j":-0.35},{"k":"p","v":"Visit 6","g":"C","t":8.1,"j":-0.25},{"k":"p","v":"Visit 6","g":"C","t":8.1,"j":-0.15},{"k":"p","v":"Visit 6","g":"C","t":8.1,"j":-0.05},{"k":"p","v":"Visit 6","g":"C","t":8.1,"j":0.05},{"k":"p","v":"Visit 6","g":"C","t":8.1,"j":0.3},{"k":"p","v":"Visit 6","g":"C","t":8.1,"j":0.38},{"k":"p","v":"Visit 6","g":"C","t":8.1,"j":0.45},
    {"k":"p","v":"Visit 6","g":"C","t":440,"j":0.02},{"k":"p","v":"Visit 6","g":"C","t":360,"j":-0.04},{"k":"p","v":"Visit 6","g":"C","t":300,"j":0.06},{"k":"p","v":"Visit 6","g":"C","t":262,"j":0.02},{"k":"p","v":"Visit 6","g":"C","t":238,"j":-0.08},{"k":"p","v":"Visit 6","g":"C","t":216,"j":0.05},{"k":"p","v":"Visit 6","g":"C","t":198,"j":0.14},{"k":"p","v":"Visit 6","g":"C","t":186,"j":0.3},{"k":"p","v":"Visit 6","g":"C","t":174,"j":-0.15},{"k":"p","v":"Visit 6","g":"C","t":162,"j":0.0},{"k":"p","v":"Visit 6","g":"C","t":153,"j":-0.25},{"k":"p","v":"Visit 6","g":"C","t":143,"j":0.12},{"k":"p","v":"Visit 6","g":"C","t":135,"j":-0.38},{"k":"p","v":"Visit 6","g":"C","t":128,"j":0.32},{"k":"p","v":"Visit 6","g":"C","t":121,"j":0.0},{"k":"p","v":"Visit 6","g":"C","t":115,"j":0.2},{"k":"p","v":"Visit 6","g":"C","t":109,"j":-0.3},{"k":"p","v":"Visit 6","g":"C","t":103,"j":-0.12},{"k":"p","v":"Visit 6","g":"C","t":97,"j":0.3},{"k":"p","v":"Visit 6","g":"C","t":91,"j":0.0},{"k":"p","v":"Visit 6","g":"C","t":86,"j":-0.3},{"k":"p","v":"Visit 6","g":"C","t":81,"j":0.2},{"k":"p","v":"Visit 6","g":"C","t":76,"j":0.3},{"k":"p","v":"Visit 6","g":"C","t":70,"j":-0.3},{"k":"p","v":"Visit 6","g":"C","t":63,"j":0.15},{"k":"p","v":"Visit 6","g":"C","t":57,"j":0.12},{"k":"p","v":"Visit 6","g":"C","t":51,"j":-0.05},{"k":"p","v":"Visit 6","g":"C","t":44,"j":-0.25},{"k":"p","v":"Visit 6","g":"C","t":37,"j":0.3},{"k":"p","v":"Visit 6","g":"C","t":31,"j":0.1},{"k":"p","v":"Visit 6","g":"C","t":28,"j":-0.2}
  ]},
  "facet": {
    "column": {
      "field": "v", "type": "nominal", "title": null,
      "sort": ["Visit 2", "Visit 4", "Visit 6"],
      "header": {"labelOrient": "bottom", "labelPadding": 9, "labelFontSize": 11.5, "labelColor": "#333333", "labelFont": "Liberation Sans"}
    }
  },
  "spacing": {"column": 0},
  "spec": {
    "width": 323,
    "height": 660,
    "encoding": {
      "x": {"field": "g", "type": "nominal", "title": null,
        "scale": {"domain": ["T", "C"], "paddingInner": 0.095, "paddingOuter": 0.329},
        "axis": {"labels": false, "ticks": false, "domainColor": "#222222", "domainWidth": 2}}
    },
    "layer": [
      {
        "transform": [{"filter": "datum.k == 'b'"}],
        "mark": {"type": "rule", "color": "#a8a8a8", "strokeWidth": 1.5},
        "encoding": {
          "y": {"field": "lo", "type": "quantitative"},
          "y2": {"field": "hi"}
        }
      },
      {
        "transform": [{"filter": "datum.k == 'b'"}],
        "mark": {"type": "bar", "opacity": 0.95, "width": 114},
        "encoding": {
          "y": {"field": "q1", "type": "quantitative", "scale": {"type": "log", "domain": [7.92, 4830], "nice": false},
            "title": "FRNT Titer (IU/ML)",
            "axis": {"values": [10, 100, 1000], "format": "d", "ticks": false, "grid": false, "labelPadding": 6, "labelFontSize": 12, "labelColor": "#333333", "labelFont": "Liberation Sans",
              "titleFont": "Liberation Sans", "titleFontSize": 12, "titleFontWeight": "normal", "titleColor": "#333333", "titlePadding": 17, "domainColor": "#222222", "domainWidth": 2}},
          "y2": {"field": "q3"},
          "fill": {"field": "g", "type": "nominal",
            "scale": {"domain": ["T", "C"], "range": ["#b4c3e6", "#e6b4b4"]},
            "legend": {"title": null, "orient": "none", "legendX": 119, "legendY": 702, "direction": "horizontal",
              "labelExpr": "datum.value == 'T' ? 'Test group (GBP510/AS03)' : 'Control group (ChAdOx1-S)'",
              "labelFont": "Liberation Sans", "labelFontSize": 19, "labelFontWeight": "bold", "labelColor": "#111111", "labelLimit": 400,
              "symbolType": "M-1.6,-1H1.6V1H-1.6Z", "symbolSize": 400, "symbolStrokeWidth": 0, "symbolOpacity": 1,
              "labelAlign": "left", "labelOffset": -282, "symbolOffset": 262, "columnPadding": 46}}
        }
      },
      {
        "transform": [{"filter": "datum.k == 'b'"}],
        "mark": {"type": "bar", "fillOpacity": 0, "strokeWidth": 1.5, "width": 114},
        "encoding": {
          "y": {"field": "med", "type": "quantitative"},
          "y2": {"field": "med"},
          "stroke": {"condition": {"test": "datum.g == 'T'", "value": "#4d5fc4"}, "value": "#b5404f"}
        }
      },
      {
        "transform": [{"filter": "datum.k == 'p'"}],
        "mark": {"type": "circle", "size": 8, "opacity": 0.85},
        "encoding": {
          "y": {"field": "t", "type": "quantitative"},
          "xOffset": {"field": "j", "type": "quantitative", "scale": {"domain": [-1, 1]}},
          "color": {"condition": {"test": "datum.g == 'T'", "value": "#2c3a96"}, "value": "#7a2c3c"}
        }
      },
      {
        "transform": [{"filter": "datum.k == 'b' && datum.g == 'T'"}],
        "mark": {"type": "rule", "color": "#222222", "strokeWidth": 2},
        "encoding": {"y": {"datum": 4830}, "x": {"value": 0}, "x2": {"value": 323}}
      },
      {
        "transform": [{"filter": "datum.k == 'l'"}],
        "mark": {"type": "text", "font": "Lato", "fontSize": 25, "fontWeight": "bold", "color": "#000000", "baseline": "alphabetic", "align": "center"},
        "encoding": {
          "y": {"field": "ly", "type": "quantitative"},
          "text": {"field": "lab"}
        }
      }
    ]
  },
  "config": {"view": {"stroke": null}}
}
